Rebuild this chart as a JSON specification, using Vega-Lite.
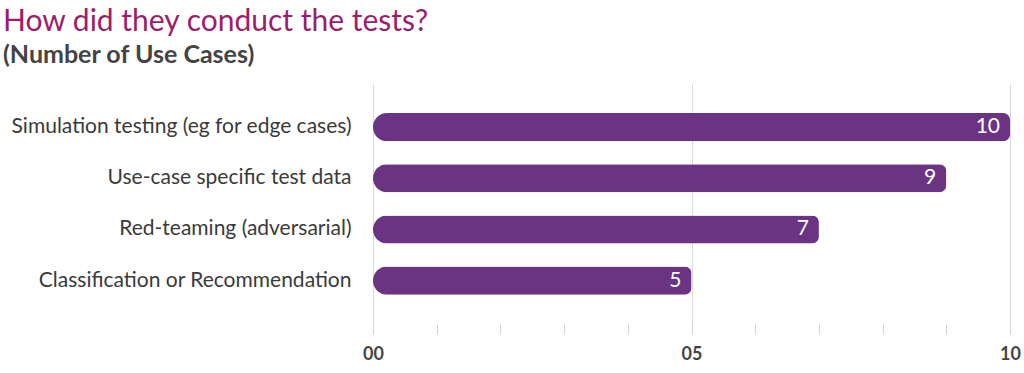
{
  "$schema": "https://vega.github.io/schema/vega-lite/v6.json",
  "width": 637,
  "height": 250,
  "autosize": {"type": "none"},
  "padding": {"left": 373, "top": 84, "right": 14, "bottom": 39},
  "background": "white",
  "view": {"stroke": null},
  "title": {
    "text": "How did they conduct the tests?",
    "subtitle": "(Number of Use Cases)",
    "anchor": "start",
    "frame": "group",
    "dx": -370,
    "font": "Lato",
    "fontSize": 30,
    "fontWeight": "normal",
    "color": "#9c1d6b",
    "subtitleFont": "Lato",
    "subtitleFontSize": 25,
    "subtitleFontWeight": "bold",
    "subtitleColor": "#444444",
    "subtitlePadding": 6,
    "offset": 16
  },
  "data": {
    "values": [
      {"method": "Simulation testing (eg for edge cases)", "count": 10},
      {"method": "Use-case specific test data", "count": 9},
      {"method": "Red-teaming (adversarial)", "count": 7},
      {"method": "Classification or Recommendation", "count": 5}
    ]
  },
  "encoding": {
    "y": {
      "field": "method",
      "type": "nominal",
      "sort": null,
      "scale": {"paddingInner": 0.45, "paddingOuter": 0.667, "align": 0.425},
      "axis": {
        "title": null,
        "ticks": false,
        "domain": false,
        "labelFont": "Lato",
        "labelFontSize": 21,
        "labelColor": "#3a3a3a",
        "labelPadding": 22,
        "labelLimit": 400
      }
    },
    "x": {
      "field": "count",
      "type": "quantitative",
      "scale": {"domain": [0, 10], "nice": false},
      "axis": {
        "title": null,
        "values": [0, 1, 2, 3, 4, 5, 6, 7, 8, 9, 10],
        "domain": false,
        "grid": true,
        "gridColor": "#d9d9d9",
        "gridOpacity": {"condition": {"test": "datum.value % 5 === 0", "value": 1}, "value": 0},
        "tickSize": -10,
        "tickColor": "#d0d0d0",
        "labelExpr": "datum.value % 5 === 0 ? (datum.value < 10 ? '0' + datum.value : '' + datum.value) : ''",
        "labelOverlap": false,
        "labelFlush": false,
        "labelFont": "Lato",
        "labelFontSize": 18,
        "labelFontWeight": "bold",
        "labelColor": "#444444",
        "labelPadding": 21
      }
    }
  },
  "layer": [
    {
      "mark": {
        "type": "bar",
        "color": "#6a3482",
        "cornerRadiusTopLeft": 14,
        "cornerRadiusBottomLeft": 14,
        "cornerRadiusTopRight": 7,
        "cornerRadiusBottomRight": 7
      }
    },
    {
      "mark": {"type": "text", "align": "right", "dx": -10, "color": "white", "font": "Lato", "fontSize": 21},
      "encoding": {"text": {"field": "count", "type": "quantitative"}}
    }
  ]
}
